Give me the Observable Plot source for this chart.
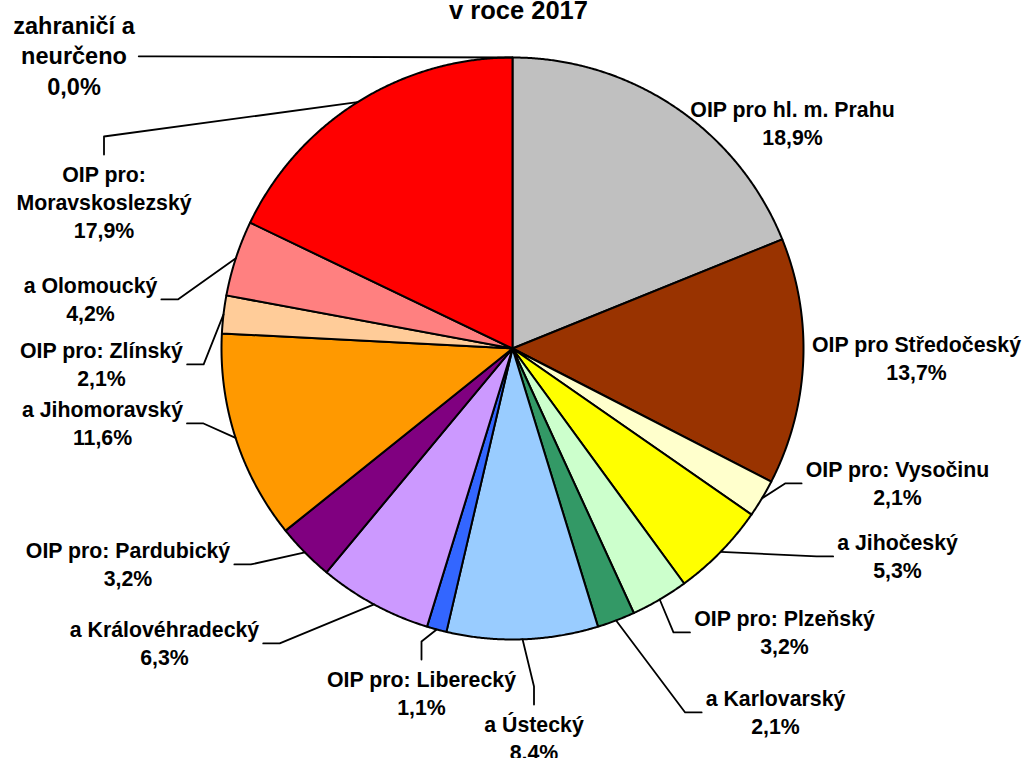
<!DOCTYPE html>
<html><head><meta charset="utf-8">
<script src="https://cdn.jsdelivr.net/npm/d3@7"></script>
<script src="https://cdn.jsdelivr.net/npm/@observablehq/plot@0.6"></script>
<style>body{margin:0;background:#fff}</style>
</head><body><div id="chart"></div>
<script>
// ---- data ----
const title = "v roce 2017";
const regions = [
  "OIP pro hl. m. Prahu", "OIP pro Středočeský", "OIP pro: Vysočinu", "a Jihočeský",
  "OIP pro: Plzeňský", "a Karlovarský", "a Ústecký", "OIP pro: Liberecký",
  "a Královéhradecký", "OIP pro: Pardubický", "a Jihomoravský", "OIP pro: Zlínský",
  "a Olomoucký", "OIP pro:\nMoravskoslezský", "zahraničí a\nneurčeno"
];
const shares = [18.9, 13.7, 2.1, 5.3, 3.2, 2.1, 8.4, 1.1, 6.3, 3.2, 11.6, 2.1, 4.2, 17.9, 0.0];
const colors = [
  "#C0C0C0", "#993300", "#FFFFCC", "#FFFF00", "#CCFFCC", "#339966", "#99CCFF", "#3366FF",
  "#CC99FF", "#800080", "#FF9900", "#FFCC99", "#FF8080", "#FF0000", "#FFFFFF"
];

// ---- layout ----
const W = 1029, H = 758, CX = 512, CY = 348, R = 291;
const labelX = [792, 916, 897, 897, 784, 775, 533.5, 421, 164, 127.5, 102, 101, 90, 103.5, 73.5];
const labelY = [115, 350, 475, 548, 624, 704, 730, 685, 635, 556, 415, 356, 291, 180, 31];
const labelSide = ["none","none","left","left","left","left","top","top","right","right","right","right","right","top","right"];
const FONT = "Arial, 'Liberation Sans', sans-serif";
const FS = 21.3, FS_BIG = 23.5, LH = 1.31, TITLE_FS = 25.5, TEXT_SHIFT = -3;

const arcs = d3.pie().sort(null).value(d => d)(shares);
const pt = (a, r) => [CX + r * Math.sin(a), CY - r * Math.cos(a)];

const wedges = [];
arcs.forEach((a, i) => {
  const span = a.endAngle - a.startAngle;
  if (span <= 0) return;
  const n = Math.max(2, Math.ceil(span / 0.005));
  wedges.push({key: i, color: colors[i], x: CX, y: CY});
  for (let k = 0; k <= n; k++) {
    const [x, y] = pt(a.startAngle + span * k / n, R);
    wedges.push({key: i, color: colors[i], x, y});
  }
  wedges.push({key: i, color: colors[i], x: CX, y: CY});
});

const ctx = document.createElement("canvas").getContext("2d");
const labels = regions.map((name, i) => {
  const text = name + "\n" + shares[i].toFixed(1).replace(".", ",") + "%";
  const fs = i === regions.length - 1 ? FS_BIG : FS;
  ctx.font = `bold ${fs}px ${FONT}`;
  const lines = text.split("\n");
  const w = d3.max(lines, l => ctx.measureText(l).width);
  return {i, text, fs, n: lines.length, w, x: labelX[i], y: labelY[i], side: labelSide[i]};
});

const leaders = [];
labels.forEach(l => {
  if (l.side === "none") return;
  const mid = (arcs[l.i].startAngle + arcs[l.i].endAngle) / 2;
  const start = pt(mid, R);
  let end, elbow;
  if (l.side === "top") {
    end = [l.x, l.y - 26];
    elbow = [l.x, l.y - 44];
  } else {
    const ey = l.y + (l.n - 1) * l.fs * LH / 2 - 6;
    const ex = l.side === "right" ? l.x + l.w / 2 + 4 : l.x - l.w / 2 - 4;
    end = [ex, ey];
    elbow = [ex + (l.side === "right" ? 16.5 : -16.5), ey];
  }
  [start, elbow, end].forEach(([x, y]) => leaders.push({key: l.i, x, y}));
});

const textOpts = fs => ({
  x: "x", y: d => d.y - 0.71 * fs + TEXT_SHIFT, text: "text", fontSize: fs, fontWeight: "bold",
  fontFamily: FONT, lineAnchor: "top", lineHeight: LH, textAnchor: "middle", fill: "black"
});

const chart = Plot.plot({
  width: W, height: H, margin: 0,
  x: {domain: [0, W], range: [0, W], axis: null},
  y: {domain: [0, H], range: [0, H], axis: null},
  color: {type: "identity"},
  style: {background: "white", overflow: "visible"},
  marks: [
    Plot.line(wedges, {x: "x", y: "y", z: "key", fill: "color", stroke: "black", strokeWidth: 2, strokeLinejoin: "round", curve: "linear"}),
    Plot.line(leaders, {x: "x", y: "y", z: "key", stroke: "black", strokeWidth: 1.8, curve: "linear"}),
    Plot.text(labels.filter(l => l.fs === FS), textOpts(FS)),
    Plot.text(labels.filter(l => l.fs === FS_BIG), textOpts(FS_BIG)),
    Plot.text([title], {frameAnchor: "top", lineAnchor: "top", dx: 3.5, dy: 18 - 0.71 * TITLE_FS,
      fontSize: TITLE_FS, fontWeight: "bold", fontFamily: FONT, fill: "black", textAnchor: "middle"})
  ]
});
document.getElementById("chart").appendChild(chart);
</script>
</body></html>
